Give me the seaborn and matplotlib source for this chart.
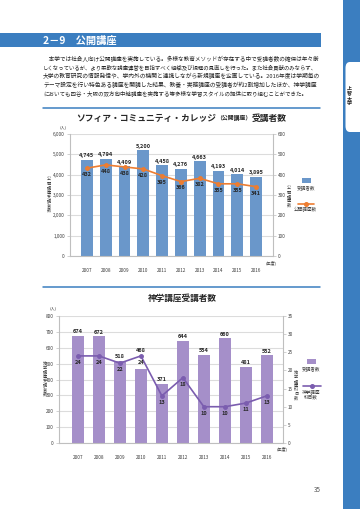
import matplotlib
matplotlib.use("Agg")
import matplotlib.pyplot as plt
import seaborn as sns
import pandas as pd
from matplotlib.patches import Rectangle, FancyBboxPatch
from matplotlib.lines import Line2D
from matplotlib.ticker import FuncFormatter, MultipleLocator

# ---------------- data ----------------
years = ["2007", "2008", "2009", "2010", "2011", "2012", "2013", "2014", "2015", "2016"]
scc_students = [4745, 4794, 4409, 5200, 4458, 4276, 4663, 4193, 4014, 3895]
scc_courses = [432, 448, 438, 428, 395, 366, 382, 355, 355, 341]
theo_students = [674, 672, 518, 468, 371, 644, 554, 660, 481, 552]
theo_courses = [24, 24, 22, 24, 13, 18, 10, 10, 11, 13]

header = "2－9　公開講座"
body_lines = [
    "　本学では社会人向け公開講座を実施している。多様な教育メソッドが存在する中で受講者数の確保は年々厳",
    "しくなっているが、より柔軟な講座運営を目指すべく組織及び規程の見直しを行った。また社会貢献のみならず、",
    "大学の教育研究の情報発信や、学内外の機関と連携しながら新規講座を企画している。2016年度は学期毎の",
    "テーマ設定を行い特色ある講座を開講した結果、教養・実務講座の受講者が約2割増加したほか、神学講座",
    "においても四谷・大阪の双方向中継講座を実施する等多様な学習スタイルの提供に取り組むことができた。",
]

W, H = 360, 509
sns.set_theme(style="white")
plt.rcParams['font.family'] = ['Noto Sans CJK JP', 'DejaVu Sans']

fig = plt.figure(figsize=(W / 100, H / 100), dpi=100)
fig.patch.set_facecolor("white")

BLUE = "#3b7ec0"
DARK = "#262626"
GRAY = "#404040"
SPINE = "#bfbfbf"
GRID = "#dcdcdc"


def fx(px):
    return px / W


def fy(py):
    return 1 - py / H


def rect(l, t, r, b):
    return [fx(l), fy(b), fx(r) - fx(l), fy(t) - fy(b)]


# ---------------- page decorations ----------------
fig.patches.append(Rectangle((fx(343), 0), 1 - fx(343), 1, transform=fig.transFigure,
                             facecolor=BLUE, edgecolor="none", zorder=0))
fig.patches.append(FancyBboxPatch((fx(345.5), fy(132)), fx(30), fy(62) - fy(132),
                                  boxstyle="round,pad=0,rounding_size=0.012",
                                  transform=fig.transFigure, facecolor="white",
                                  edgecolor="none", zorder=1))
fig.text(fx(349), fy(96), "\n".join("上智大学"), fontsize=3.6, fontweight="bold",
         color=DARK, ha="center", va="center", linespacing=1.05)

fig.patches.append(Rectangle((0, fy(47)), fx(321), fy(33) - fy(47), transform=fig.transFigure,
                             facecolor=BLUE, edgecolor="none", zorder=0))
fig.text(fx(43), fy(40.5), header, fontsize=7.4, fontweight="bold", color="white",
         ha="left", va="center")

renderer = fig.canvas.get_renderer()

# body text, widened line by line (except the last line)
line_y = [58.5, 67.3, 76.1, 84.9, 93.7]
for k, (ln, yy) in enumerate(zip(body_lines, line_y)):
    t = fig.text(fx(43), fy(yy), ln, fontsize=3.95, color=DARK, ha="left", va="center")
    if k < len(body_lines) - 1:
        w = t.get_window_extent(renderer).width
        target = 320 - 43
        if w > 0 and abs(w - target) < 25:
            t.set_fontsize(3.95 * min(target / w, 1.06))

for yy in (108, 287):
    fig.add_artist(Line2D([fx(43), fx(320)], [fy(yy), fy(yy)], transform=fig.transFigure,
                          color=BLUE, linewidth=1.1))

fig.text(fx(317), fy(490), "35", fontsize=4.5, color="#555555", ha="center", va="center")


def chained_title(pieces, cx, cy):
    texts = []
    for s, size in pieces:
        t = fig.text(0, fy(cy), s, fontsize=size, fontweight="bold", color=DARK,
                     ha="left", va="center")
        texts.append(t)
    widths = [t.get_window_extent(renderer).width for t in texts]
    x = cx - sum(widths) / 2
    for t, w in zip(texts, widths):
        t.set_x(fx(x))
        x += w


def stacked(text, x, y, size=3.0):
    fig.text(fx(x), fy(y), "\n".join(text), fontsize=size, color=GRAY,
             ha="center", va="center", linespacing=1.0)


def draw_chart(box, students, courses, bar_color, line_color, ymax, ystep,
               y2max, y2step, thousands, xlim, width, label_pad):
    ax = fig.add_axes(box)
    df = pd.DataFrame({"year": years, "students": students, "courses": courses})
    sns.barplot(data=df, x="year", y="students", color=bar_color, width=width,
                saturation=1, ax=ax, linewidth=0, zorder=2)
    for bar, v, pad in zip(ax.containers[0], students, label_pad):
        cx = bar.get_x() + bar.get_width() / 2
        ax.annotate(f"{v:,}" if thousands else f"{v}", xy=(cx, bar.get_height()),
                    xytext=(0, pad), textcoords="offset points", ha="center", va="bottom",
                    fontsize=4.0, fontweight="bold", color=DARK)
    ax2 = ax.twinx()
    sns.pointplot(data=df, x="year", y="courses", color=line_color, ax=ax2,
                  markers="o", markersize=2.6, linewidth=1.2)
    for i, v in enumerate(courses):
        ax2.annotate(f"{v}", xy=(i, v), xytext=(0, -2.8), textcoords="offset points",
                     ha="center", va="top", fontsize=4.0, fontweight="bold", color=DARK)

    ax.set_ylim(0, ymax)
    ax.yaxis.set_major_locator(MultipleLocator(ystep))
    if thousands:
        ax.yaxis.set_major_formatter(FuncFormatter(lambda v, p: f"{int(v):,}"))
    ax2.set_ylim(0, y2max)
    ax2.yaxis.set_major_locator(MultipleLocator(y2step))
    ax.set_xlim(*xlim)

    ax.yaxis.grid(True, color=GRID, linewidth=0.8)
    ax.set_axisbelow(True)
    for a in (ax, ax2):
        a.set_xlabel("")
        a.set_ylabel("")
        for s in a.spines.values():
            s.set_visible(False)
    for s in ("left", "right", "bottom"):
        ax.spines[s].set_visible(True)
        ax.spines[s].set_color(SPINE)
        ax.spines[s].set_linewidth(0.8)
    ax.tick_params(axis="y", left=True, length=2.2, width=0.5, color=SPINE,
                   labelsize=3.4, labelcolor=GRAY, pad=1.5)
    ax2.tick_params(axis="y", right=True, length=2.2, width=0.5, color=SPINE,
                    labelsize=3.4, labelcolor=GRAY, pad=1.5)
    ax.tick_params(axis="x", bottom=False, labelsize=3.4, labelcolor=GRAY, pad=2.5)
    ax2.tick_params(axis="x", bottom=False, top=False, labelbottom=False)
    return ax, ax2


# ---------------- top chart ----------------
chained_title([("ソフィア・コミュニティ・カレッジ", 6.3), ("（公開講座）", 4.2), ("受講者数", 6.3)],
              181.5, 118)
draw_chart(rect(70, 134, 273, 256), scc_students, scc_courses, "#6a97ca", "#ed7d31",
           6000, 1000, 600, 100, True, (-0.9, 9.9), 0.62, [1.2] * 10)
fig.text(fx(63), fy(127.5), "(人)", fontsize=3.0, color=GRAY, ha="center", va="center")
fig.text(fx(266), fy(262.5), "(年度)", fontsize=3.0, color=GRAY, ha="left", va="center")
stacked("公開講座受講者数", 49, 195)
stacked("公開講座数", 289, 197)

fig.patches.append(Rectangle((fx(301.5), fy(183)), fx(9), fy(178) - fy(183),
                             transform=fig.transFigure, facecolor="#6a97ca", edgecolor="none"))
fig.text(fx(306), fy(187.5), "受講者数", fontsize=3.3, color=GRAY, ha="center", va="center")
fig.add_artist(Line2D([fx(298), fx(314)], [fy(204), fy(204)], transform=fig.transFigure,
                      color="#ed7d31", linewidth=1.2))
fig.add_artist(Line2D([fx(306)], [fy(204)], transform=fig.transFigure, color="#ed7d31",
                      marker="o", markersize=2.6, linewidth=0))
fig.text(fx(305), fy(210), "公開講座数", fontsize=3.3, color=GRAY, ha="center", va="center")

# ---------------- bottom chart ----------------
chained_title([("神学講座受講者数", 6.2)], 182, 298)
bottom_pad = [1.2] * 10
bottom_pad[3] = 11.5
draw_chart(rect(59, 316, 283, 443), theo_students, theo_courses, "#a58fc9", "#7b5daf",
           800, 100, 35, 5, False, (-0.9, 9.77), 0.56, bottom_pad)
fig.text(fx(53), fy(308), "(人)", fontsize=3.0, color=GRAY, ha="center", va="center")
fig.text(fx(277), fy(448.5), "(年度)", fontsize=3.0, color=GRAY, ha="left", va="center")
stacked("神学講座受講者数", 45, 379)
stacked("神学講座科目数", 296, 386)

fig.patches.append(Rectangle((fx(306.5), fy(364)), fx(9), fy(359) - fy(364),
                             transform=fig.transFigure, facecolor="#a58fc9", edgecolor="none"))
fig.text(fx(311), fy(368.5), "受講者数", fontsize=3.3, color=GRAY, ha="center", va="center")
fig.add_artist(Line2D([fx(303), fx(321)], [fy(386), fy(386)], transform=fig.transFigure,
                      color="#7b5daf", linewidth=1.2))
fig.add_artist(Line2D([fx(312)], [fy(386)], transform=fig.transFigure, color="#7b5daf",
                      marker="o", markersize=2.6, linewidth=0))
fig.text(fx(311), fy(394.5), "神学講座\n科目数", fontsize=3.3, color=GRAY, ha="center",
         va="center", linespacing=1.05)

fig.savefig("out.png", dpi=100, facecolor="white")
